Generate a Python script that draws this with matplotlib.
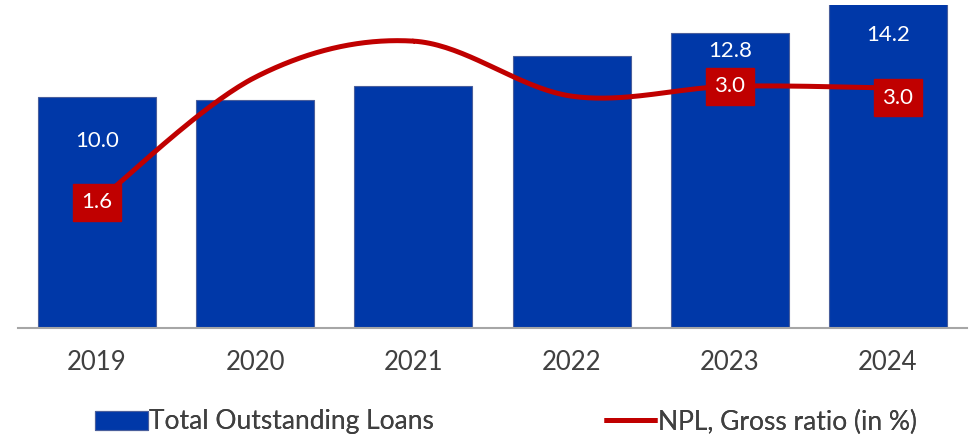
import numpy as np
import matplotlib.pyplot as plt

years = ["2019", "2020", "2021", "2022", "2023", "2024"]
loans = [10.0, 9.9, 10.5, 11.8, 12.8, 14.2]
npl = [1.6, 3.12, 3.56, 2.89, 3.01, 2.99]

# which points get a value label
loan_labels = {0: "10.0", 4: "12.8", 5: "14.2"}
npl_labels = {0: "1.6", 4: "3.0", 5: "3.0"}

BLUE = "#0038A8"
RED = "#C00000"
plt.rcParams['font.family'] = ['Lato', 'DejaVu Sans']


def catmull_rom(xs, ys, n=40):
    # uniform catmull-rom through all points, end points duplicated
    p = np.column_stack([xs, ys]).astype(float)
    p = np.vstack([p[0], p, p[-1]])
    out = []
    t = np.linspace(0, 1, n)
    for i in range(1, len(p) - 2):
        p0, p1, p2, p3 = p[i - 1], p[i], p[i + 1], p[i + 2]
        seg = 0.5 * ((2 * p1)[None, :]
                     + np.outer(t, -p0 + p2)
                     + np.outer(t ** 2, 2 * p0 - 5 * p1 + 4 * p2 - p3)
                     + np.outer(t ** 3, -p0 + 3 * p1 - 3 * p2 + p3))
        out.append(seg)
    out = np.vstack(out)
    return out[:, 0], out[:, 1]


fig = plt.figure(figsize=(9.69, 4.37), dpi=100)
ax = fig.add_axes([18 / 969, 1 - 327.7 / 437, 949 / 969, 322.7 / 437])
x = np.arange(len(years))

ax.bar(x, loans, width=0.747, color=BLUE, edgecolor="#4a5f9c", linewidth=0.8,
       label="Total Outstanding Loans", zorder=2)
ax.set_xlim(-0.5, 5.5)
ax.set_ylim(0, 14.0)
ax.set_yticks([])
for s in ["top", "right", "left"]:
    ax.spines[s].set_visible(False)
ax.spines["bottom"].set_color("#A6A6A6")
ax.spines["bottom"].set_linewidth(1.5)
ax.set_xticks(x)
ax.set_xticklabels(years, fontsize=18.5, color="#404040")
ax.tick_params(axis="x", length=0, pad=16)

# bar value labels, placed inside near the top
bar_offsets = {0: -44, 4: -18, 5: -30}
for i, txt in loan_labels.items():
    ax.annotate(txt, (x[i], min(loans[i], 14.0)), xytext=(0, bar_offsets[i]),
                textcoords="offset pixels", ha="center", va="center",
                color="white", fontsize=16, zorder=5)

ax2 = ax.twinx()
ax2.set_ylim(0.07, 4.0)
ax2.axis("off")
sx, sy = catmull_rom(x, npl)
ax2.plot(sx, sy, color=RED, linewidth=3.6, solid_capstyle="butt",
         label="NPL, Gross ratio (in %)")

npl_offsets = {0: (0, 0), 4: (0, 0), 5: (10, -10)}
for i, txt in npl_labels.items():
    ax2.annotate(txt, (x[i], npl[i]), xytext=npl_offsets[i],
                 textcoords="offset pixels", ha="center", va="center",
                 color="white", fontsize=16,
                 bbox=dict(boxstyle="square,pad=0.38", fc=RED, ec=RED))

# two separate legend entries so each sits where the original has it
h1, l1 = ax.get_legend_handles_labels()
h2, l2 = ax2.get_legend_handles_labels()
leg_y = 1 - 422 / 437
for h, l, left in [(h1, l1, 95), (h2, l2, 604)]:
    leg = fig.legend(h, l, loc="center left", bbox_to_anchor=(left / 969, leg_y),
                     frameon=False, fontsize=19, handlelength=2.0, borderpad=0,
                     borderaxespad=0, handletextpad=0.05, labelcolor="#404040")
    fig.add_artist(leg)

fig.savefig("out.png", dpi=100)
